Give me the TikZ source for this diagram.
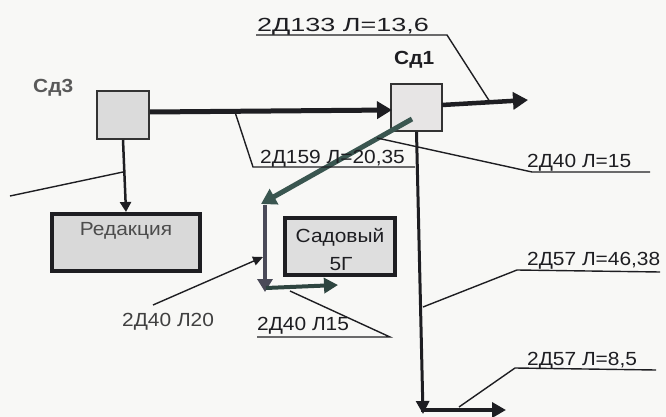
\documentclass[tikz,border=0pt]{standalone}
\usepackage{fontspec}
\setmainfont{Liberation Sans}
\newfontfamily\lab[FakeStretch=1.1]{Liberation Sans}
\newfontfamily\labwide[FakeStretch=1.42]{Liberation Sans}
\usetikzlibrary{arrows.meta}
\definecolor{bg}{HTML}{F8F8F6}
\definecolor{ink}{HTML}{1E1E22}
\definecolor{slate}{HTML}{3A5650}
\definecolor{vgray}{HTML}{4A4A58}
\tikzset{
  lbl/.style={inner sep=0pt, anchor=base west, font=\lab\fontsize{19}{22}\selectfont, text=ink},
  widelbl/.style={lbl, font=\labwide\fontsize{19}{22}\selectfont},
  glbl/.style={lbl, text=black!75},
  slbl/.style={inner sep=0pt, anchor=base west, font=\lab\bfseries\fontsize{19}{22}\selectfont},
  leader/.style={draw=ink, line width=1.4pt},
  pipe/.style={draw=ink, line width=5pt, -{Triangle[length=15pt,width=17pt]}},
  sbox/.style={draw=black!80, line width=1.6pt},
  bigbox/.style={draw=ink, line width=4pt, fill=black!15},
}
\begin{document}
\begin{tikzpicture}[x=1pt,y=-1pt]
\useasboundingbox[fill=bg] (0,0) rectangle (666,417);

% boxes
\node[sbox, fill=black!14, minimum width=52pt, minimum height=48pt, inner sep=0] (sd3) at (123,115) {};
\node[sbox, fill=red!4!black!10, minimum width=51pt, minimum height=47pt, inner sep=0] (sd1) at (416.5,107.5) {};
\node[slbl, text=black!65] (sd3l) at (33,93) {Сд3};
\node[slbl, text=ink] (sd1l) at (394,65) {Сд1};

\node[bigbox, minimum width=148pt, minimum height=57pt, inner sep=0] (red) at (126,242.5) {};
\node[inner sep=0, anchor=base, font=\lab\fontsize{19}{22}\selectfont, text=black!70] (redt) at (126,235) {Редакция};
\node[bigbox, fill=black!13, minimum width=110pt, minimum height=57pt, inner sep=0] (sad) at (340,246.5) {};
\node[inner sep=0, anchor=base, font=\lab\fontsize{19}{22}\selectfont, text=ink] (sadt1) at (340,242) {Садовый};
\node[inner sep=0, anchor=base, font=\lab\fontsize{19}{22}\selectfont, text=ink] (sadt2) at (341,270) {5Г};

% coordinates
\coordinate (a1) at (149,112);
\coordinate (a2) at (392,110);
\coordinate (b1) at (442,105);
\coordinate (b2) at (528,100);
\coordinate (g1) at (412,119);
\coordinate (g2) at (261,204);
\coordinate (v1) at (265,205);
\coordinate (v2) at (265,292);
\coordinate (h1) at (266,288);
\coordinate (h2) at (338,285);
\coordinate (d2) at (423,414);
\coordinate (e1) at (421,410);
\coordinate (e2) at (506,410);

% pipes
\draw[pipe] (sd3.east |- a1) -- (a2);
\draw[pipe, line width=4.5pt] (b1) -- (b2);
\draw[pipe, draw=slate, line width=5pt] (g1) -- (g2);
\draw[pipe, draw=vgray, line width=4pt, -{Triangle[length=13pt,width=15pt]}] (v1) -- (v2);
\draw[pipe, draw=slate!80!black, line width=4pt, -{Triangle[length=14pt,width=15pt]}] (h1) -- (h2);
\draw[draw=ink, line width=2.5pt, -{Triangle[length=10pt,width=11pt]}] (sd3.south) -- (red.north);
\draw[draw=ink, line width=3pt, -{Triangle[length=13pt,width=13pt]}] (sd1.south) -- (d2);
\draw[pipe, line width=4pt, -{Triangle[length=14pt,width=15pt]}] (e1) -- (e2);

% labels
\node[widelbl] (l133) at (257,32) {2Д133 Л=13,6};
\node[lbl] (l159) at (260,163) {2Д159 Л=20,35};
\node[lbl] (l40a) at (527,167) {2Д40 Л=15};
\node[lbl] (l57a) at (527,265) {2Д57 Л=46,38};
\node[lbl] (l57b) at (527,365) {2Д57 Л=8,5};
\node[lbl] (l40b) at (257,330) {2Д40 Л15};
\node[glbl] (l40c) at (122,326) {2Д40 Л20};

% leaders
\coordinate (u133a) at (256,35); \coordinate (u133b) at (447,35); \coordinate (t133) at (490,102);
\draw[leader] (u133a) -- (u133b) -- (t133);
\coordinate (u159a) at (415,167); \coordinate (u159b) at (253,167); \coordinate (t159) at (235,112);
\draw[leader] (u159a) -- (u159b) -- (t159);
\coordinate (u40aa) at (650,172); \coordinate (u40ab) at (532,172); \coordinate (t40a) at (377,138);
\draw[leader] (u40aa) -- (u40ab) -- (t40a);
\coordinate (u57aa) at (660,272); \coordinate (u57ab) at (517,270); \coordinate (t57a) at (423,307);
\draw[leader] (u57aa) -- (u57ab) -- (t57a);
\coordinate (u57ba) at (656,370); \coordinate (u57bb) at (515,368); \coordinate (t57b) at (459,407);
\draw[leader] (u57ba) -- (u57bb) -- (t57b);
\coordinate (u40ba) at (257,337); \coordinate (u40bb) at (390,337); \coordinate (t40b) at (290,291);
\draw[leader] (u40ba) -- (u40bb) -- (t40b);
\coordinate (s20) at (153,305); \coordinate (t20) at (263,257);
\draw[leader, -{Triangle[length=10pt,width=9pt]}] (s20) -- (t20);
\coordinate (lf1) at (10,196); \coordinate (lf2) at (123,172);
\draw[leader] (lf1) -- (lf2);
\end{tikzpicture}
\end{document}
